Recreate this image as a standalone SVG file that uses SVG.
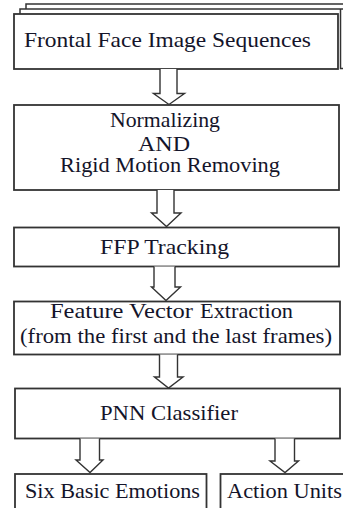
<svg xmlns="http://www.w3.org/2000/svg" width="343" height="508" viewBox="0 0 343 508">
<style>
.box{fill:#fff;stroke:#333;stroke-width:1.8}
.ln{fill:none;stroke:#333;stroke-width:1.5}
.arr{fill:#fff;stroke:#333;stroke-width:1.4;stroke-linejoin:miter}
</style>
<rect width="343" height="508" fill="#fff"/>
<g font-family="Liberation Serif" font-size="21" fill="#14142a">
<g id="node-input">
<path class="ln" d="M26,9 V4 H343"/>
<path class="ln" d="M20,14 V9 H343 M340.5,9 V68.5 H343"/>
<rect class="box" x="14" y="14" width="324" height="55"/>
<text x="24" y="47" textLength="287" lengthAdjust="spacingAndGlyphs">Frontal Face Image Sequences</text>
</g>
<g id="node-normalize">
<rect class="box" x="14" y="105" width="325" height="85"/>
<text x="110" y="126.5" textLength="110" lengthAdjust="spacingAndGlyphs">Normalizing</text>
<text x="138" y="151" font-size="20" textLength="52" lengthAdjust="spacingAndGlyphs">AND</text>
<text x="60" y="172" font-size="20" textLength="220" lengthAdjust="spacingAndGlyphs">Rigid Motion Removing</text>
</g>
<g id="node-ffp">
<rect class="box" x="14" y="227.5" width="325" height="39"/>
<text x="100" y="254" textLength="129" lengthAdjust="spacingAndGlyphs">FFP Tracking</text>
</g>
<g id="node-feature">
<rect class="box" x="14" y="301.5" width="326" height="53"/>
<text x="50" y="318" textLength="143" lengthAdjust="spacingAndGlyphs">Feature Vector</text>
<text x="200" y="318" textLength="93" lengthAdjust="spacingAndGlyphs">Extraction</text>
<text x="20" y="342.5" textLength="312" lengthAdjust="spacingAndGlyphs">(from the first and the last frames)</text>
</g>
<g id="node-pnn">
<rect class="box" x="15" y="388.5" width="325" height="50"/>
<text x="100" y="420" textLength="138" lengthAdjust="spacingAndGlyphs">PNN Classifier</text>
</g>
<g id="node-emotions">
<rect class="box" x="15" y="474" width="191.5" height="40"/>
<text x="25" y="498" textLength="175" lengthAdjust="spacingAndGlyphs">Six Basic Emotions</text>
</g>
<g id="node-au">
<rect class="box" x="220.5" y="474" width="130" height="40"/>
<text x="227" y="498" textLength="115" lengthAdjust="spacingAndGlyphs">Action Units</text>
</g>
</g>
<g id="connectors">
<path class="arr" d="M160,69 V93.5 H153.5 L169,104.5 L184.5,93.5 H177 V69"/>
<path class="arr" d="M157,190 V213 H151.5 L166.5,226.5 L181,213 H174 V190"/>
<path class="arr" d="M154,266.5 V287 H151.5 L166,300.5 L180.5,287 H175 V266.5"/>
<path class="arr" d="M159.5,354.5 V377 H154.5 L168.5,388 L183,377 H177.5 V354.5"/>
<path class="arr" d="M80,438.5 V460 H76 L90,472.5 L103,460 H99.5 V438.5"/>
<path class="arr" d="M275,438.5 V461 H270 L285,472.5 L298.5,461 H294.5 V438.5"/>
</g>
</svg>
